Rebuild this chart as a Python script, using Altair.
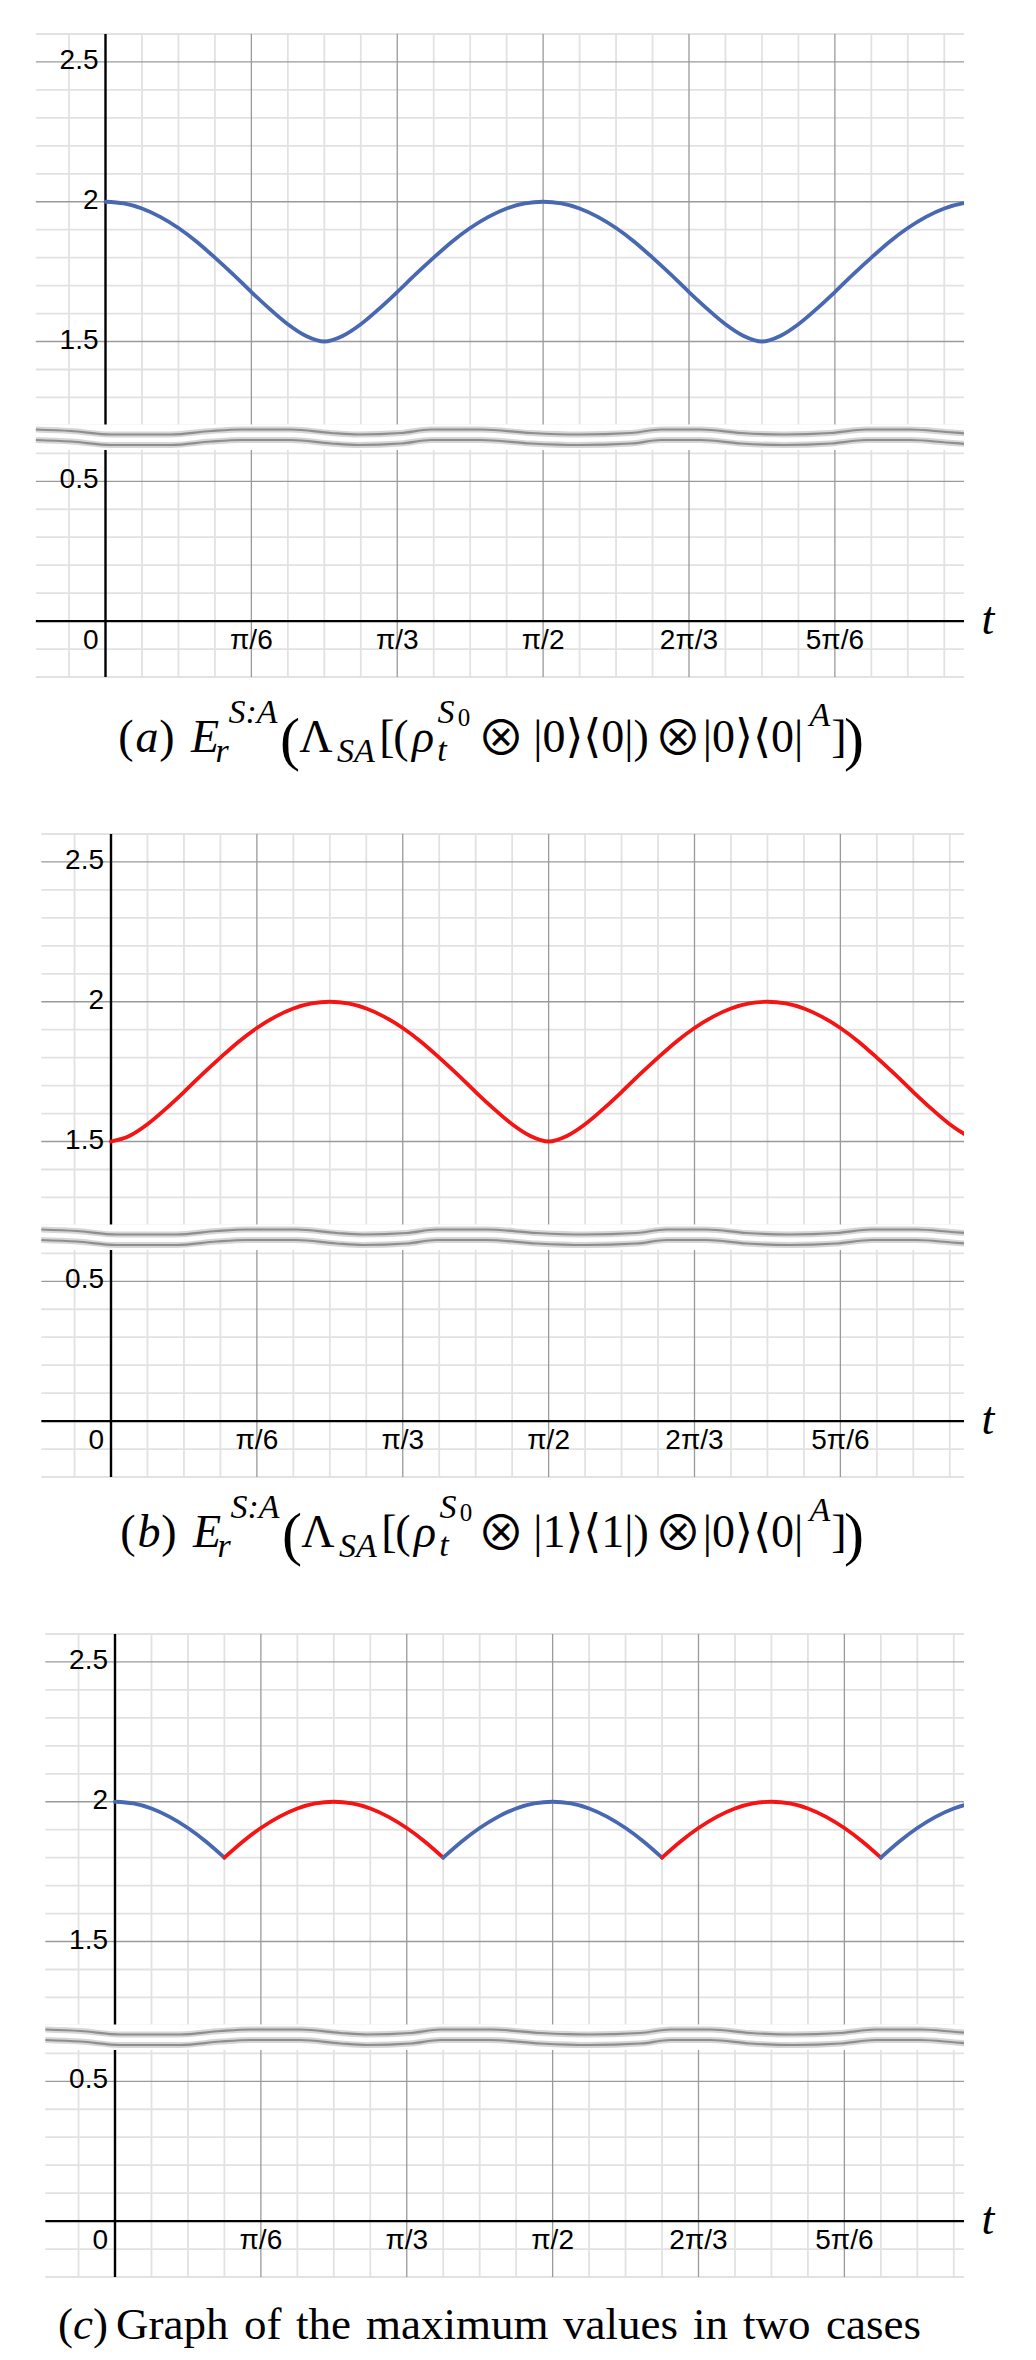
import numpy as np
import pandas as pd
import altair as alt

# ---------------- values ----------------
# samples at t_k = k*pi/48, k = 0..48
sample_k = list(range(49))
case_a_values = [2.000, 1.994, 1.976, 1.946, 1.906, 1.857, 1.800, 1.740, 1.677, 1.617,
                 1.562, 1.520, 1.500, 1.520, 1.562, 1.617, 1.677, 1.740, 1.800, 1.857,
                 1.906, 1.946, 1.976, 1.994, 2.000, 1.994, 1.976, 1.946, 1.906, 1.857,
                 1.800, 1.740, 1.677, 1.617, 1.562, 1.520, 1.500, 1.520, 1.562, 1.617,
                 1.677, 1.740, 1.800, 1.857, 1.906, 1.946, 1.976, 1.994, 2.000]
case_b_values = [1.500, 1.520, 1.562, 1.617, 1.677, 1.740, 1.800, 1.857, 1.906, 1.946,
                 1.976, 1.994, 2.000, 1.994, 1.976, 1.946, 1.906, 1.857, 1.800, 1.740,
                 1.677, 1.617, 1.562, 1.520, 1.500, 1.520, 1.562, 1.617, 1.677, 1.740,
                 1.800, 1.857, 1.906, 1.946, 1.976, 1.994, 2.000, 1.994, 1.976, 1.946,
                 1.906, 1.857, 1.800, 1.740, 1.677, 1.617, 1.562, 1.520, 1.500]

x_tick_fracs = [0, 1 / 6, 1 / 3, 1 / 2, 2 / 3, 5 / 6]          # multiples of pi
x_tick_labels = ["0", "π/6", "π/3", "π/2", "2π/3", "5π/6"]
y_tick_values = [2.5, 2.0, 1.5, 0.5]
y_tick_labels = ["2.5", "2", "1.5", "0.5"]

# wavy axis-break decoration (key points along t, offsets in px, + = down)
wave_t = [-0.25, -0.124, 0.020, 0.235, 0.379, 0.486, 0.666, 0.809, 0.906, 1.061,
          1.168, 1.348, 1.527, 1.700, 1.886, 1.994, 2.137, 2.281, 2.435, 2.604,
          2.730, 2.891, 3.017, 3.09]
wave_off_px = [-2.5, -1, 2.5, 2.5, -1, -2.5, -2.5, 1, 2.5, 1,
               -2.5, -2.5, 1, 2.5, 1, -2.5, -2.5, 1, 2.5, 1,
               -2.5, -2.5, 0, 1.5]

# ---------------- layout / style ----------------
W, H = 929, 643
PXR = 278.6                  # px per unit t
Y_DOM = [0.3, 2.6]           # display units (lower part shifted up by 0.5)
YPX = H / (Y_DOM[1] - Y_DOM[0])
GRID_LEFT = -0.25
PLOT_LEFT_PAGE = 34
BLUE = "#4868b1"
RED = "#f41414"
MINOR = "#e2e2e2"
MAJOR = "#9a9a9a"
LABEL_FONT = "Liberation Sans"
SERIF = "Liberation Serif, DejaVu Sans"
SYM = "Noto Sans CJK JP, DejaVu Sans"


def disp(v):
    return v + 0.5 if v < 1.0 else v


t_samples = [k * np.pi / 48 for k in sample_k]


def curve_df(kind):
    rows = []
    if kind == "a":
        for t, v in zip(t_samples, case_a_values):
            rows.append((t, v, "a", 0))
    elif kind == "b":
        for t, v in zip(t_samples, case_b_values):
            rows.append((t, v, "b", 0))
    else:
        seg = 0
        prev = None
        for i, (t, va, vb) in enumerate(zip(t_samples, case_a_values, case_b_values)):
            cur = "a" if va >= vb else "b"
            if va == vb and i > 0:
                rows.append((t, va, prev, seg))
                seg += 1
                nxt = "b" if prev == "a" else "a"
                rows.append((t, va, nxt, seg))
                prev = nxt
                continue
            if prev is not None and cur != prev:
                seg += 1
            rows.append((t, max(va, vb), cur, seg))
            prev = cur
    return pd.DataFrame(rows, columns=["t", "v", "series", "seg"])


def text_layer(s, x_page, y_rel, size, italic, font=SERIF, align="center"):
    return alt.Chart(pd.DataFrame({"s": [s]})).mark_text(
        align=align, baseline="alphabetic", font=font, fontSize=size,
        fontStyle="italic" if italic else "normal", color="black"
    ).encode(text="s:N", x=alt.value(x_page - PLOT_LEFT_PAGE), y=alt.value(y_rel))


def caption_ab(letter, ket, base, shift):
    segs = [
        ("(", 125, 0, 46, False, SERIF), (letter, 146, 0, 46, True, SERIF),
        (")", 166, 0, 46, False, SERIF),
        ("E", 204, 0, 46, True, SERIF), ("r", 221, 10, 34, True, SERIF),
        ("S:A", 252, -29, 34, True, SERIF),
        ("(", 289, 7, 60, False, SERIF), ("Λ", 315, 0, 46, False, SERIF),
        ("SA", 355, 10, 34, True, SERIF),
        ("[", 386, 0, 46, False, SERIF), ("(", 400, 0, 46, False, SERIF),
        ("ρ", 422, 0, 46, True, SERIF),
        ("t", 441, 9, 34, True, SERIF), ("S", 445, -29, 34, True, SERIF),
        ("0", 463, -26, 25, False, SERIF),
        ("⊗", 500, 3, 48, False, SYM), ("|" + ket + "⟩⟨" + ket + "|)", 590, 0, 46, False, SERIF),
        ("⊗", 677, 3, 48, False, SYM), ("|0⟩⟨0|", 752, 0, 46, False, SERIF),
        ("A", 819, -26, 34, True, SERIF), ("]", 838, 0, 46, False, SERIF),
        (")", 853, 7, 60, False, SERIF),
    ]
    out = []
    for s, x, dy, sz, it, fnt in segs:
        xx = x + (shift if x < 480 else 0)
        out.append(text_layer(s, xx, base + dy, sz, it, font=fnt))
    return out


def caption_c(base):
    segs = [("(", 57, False), ("c", 72, True), (")", 92, False),
            ("Graph", 115, False), ("of", 243, False), ("the", 295, False),
            ("maximum", 365, False), ("values", 562, False), ("in", 692, False),
            ("two", 742, False), ("cases", 825, False)]
    return [text_layer(s, x, base, 45, it, align="left") for s, x, it in segs]


def make_panel(kind, axis_px, caption_layers):
    t_min = -(axis_px - PLOT_LEFT_PAGE) / PXR
    t_max = t_min + W / PXR
    xs = alt.Scale(domain=[t_min, t_max], nice=False, zero=False)
    ys = alt.Scale(domain=Y_DOM, nice=False, zero=False)

    def X(f):
        return alt.X(f, type="quantitative", scale=xs, axis=None)

    def Y(f):
        return alt.Y(f, type="quantitative", scale=ys, axis=None)

    kk = range(-1, 24)
    vmin = pd.DataFrame({"x": [k * np.pi / 24 for k in kk if k % 4 != 0]})
    vmaj = pd.DataFrame({"x": [k * np.pi / 24 for k in kk if k % 4 == 0 and k != 0]})
    yv = [round(0.3 + 0.1 * i, 2) for i in range(24)]
    majors = {2.5, 2.0, 1.5, 1.0}
    hmin = pd.DataFrame({"y": [v for v in yv if v not in majors and v != 0.5]})
    hmaj = pd.DataFrame({"y": [v for v in yv if v in majors]})
    for d in (hmin, hmaj):
        d["x0"] = GRID_LEFT
        d["x1"] = t_max
    xaxis_df = pd.DataFrame({"y": [0.5], "x0": [GRID_LEFT], "x1": [t_max]})
    yaxis_df = pd.DataFrame({"x": [0.0], "y0": [Y_DOM[0]], "y1": [Y_DOM[1]]})
    band_df = pd.DataFrame({"x0": [GRID_LEFT], "x1": [t_max], "y0": [1.112], "y1": [1.203]})

    wrows = []
    for name, centre in (("top", 1.1764), ("bottom", 1.1388)):
        for t, o in zip(wave_t, wave_off_px):
            wrows.append((t, centre - o / YPX, name))
    wave_df = pd.DataFrame(wrows, columns=["t", "y", "line"])

    cdf = curve_df(kind)

    ylab = pd.DataFrame({"y": [disp(v) for v in y_tick_values], "s": y_tick_labels, "x": 0.0})
    xlab0 = pd.DataFrame({"x": [0.0], "y": [0.5], "s": [x_tick_labels[0]]})
    xlab = pd.DataFrame({"x": [f * np.pi for f in x_tick_fracs[1:]], "y": 0.5,
                         "s": x_tick_labels[1:]})

    layers = [
        alt.Chart(vmin).mark_rule(color=MINOR, strokeWidth=1.8).encode(x=X("x")),
        alt.Chart(hmin).mark_rule(color=MINOR, strokeWidth=1.8).encode(
            y=Y("y"), x=X("x0"), x2="x1"),
        alt.Chart(vmaj).mark_rule(color=MAJOR, strokeWidth=1.3).encode(x=X("x")),
        alt.Chart(hmaj).mark_rule(color=MAJOR, strokeWidth=1.3).encode(
            y=Y("y"), x=X("x0"), x2="x1"),
        alt.Chart(xaxis_df).mark_rule(color="black", strokeWidth=2.4).encode(
            y=Y("y"), x=X("x0"), x2="x1"),
        alt.Chart(yaxis_df).mark_rule(color="black", strokeWidth=2.4).encode(
            x=X("x"), y=Y("y0"), y2="y1"),
        alt.Chart(band_df).mark_rect(color="white").encode(
            x=X("x0"), x2="x1", y=Y("y0"), y2="y1"),
        alt.Chart(wave_df).mark_line(color="#d6d6d6", strokeWidth=6, interpolate="monotone",
                                     clip=True).encode(x=X("t"), y=Y("y"), detail="line:N"),
        alt.Chart(wave_df).mark_line(color="#8e8e8e", strokeWidth=2.2, interpolate="monotone",
                                     clip=True).encode(x=X("t"), y=Y("y"), detail="line:N"),
        alt.Chart(cdf).mark_line(strokeWidth=3.8, interpolate="monotone", clip=True,
                                 strokeCap="round", strokeJoin="round").encode(
            x=X("t"), y=Y("v"),
            color=alt.Color("series:N", scale=alt.Scale(domain=["a", "b"], range=[BLUE, RED]),
                            legend=None),
            detail="seg:N"),
        alt.Chart(ylab).mark_text(align="right", baseline="middle", dx=-7, dy=-1,
                                  font=LABEL_FONT, fontSize=28, color="#000000").encode(
            x=X("x"), y=Y("y"), text="s:N"),
        alt.Chart(xlab0).mark_text(align="right", baseline="middle", dx=-7, dy=20,
                                   font=LABEL_FONT, fontSize=28, color="#000000").encode(
            x=X("x"), y=Y("y"), text="s:N"),
        alt.Chart(xlab).mark_text(align="center", baseline="middle", dy=20,
                                  font=LABEL_FONT, fontSize=28, color="#000000").encode(
            x=X("x"), y=Y("y"), text="s:N"),
        text_layer("t", PLOT_LEFT_PAGE + W + 24, (Y_DOM[1] - 0.5) * YPX + 13, 46, True),
    ] + caption_layers
    return alt.layer(*layers).properties(width=W, height=H)


panel_a = make_panel("a", 104.5, caption_ab("a", "0", 718, 0))
panel_b = make_panel("b", 110, caption_ab("b", "1", 713, 2))
panel_c = make_panel("c", 114, caption_c(705))

chart = alt.vconcat(panel_a, panel_b, panel_c, spacing=157, bounds="flush").resolve_scale(
    x="independent", y="independent"
).properties(
    padding={"left": 26, "top": 24, "right": 5, "bottom": 5}
).configure_view(stroke=None)

chart.save("out.html", embed_options={"renderer": "svg", "actions": False})
